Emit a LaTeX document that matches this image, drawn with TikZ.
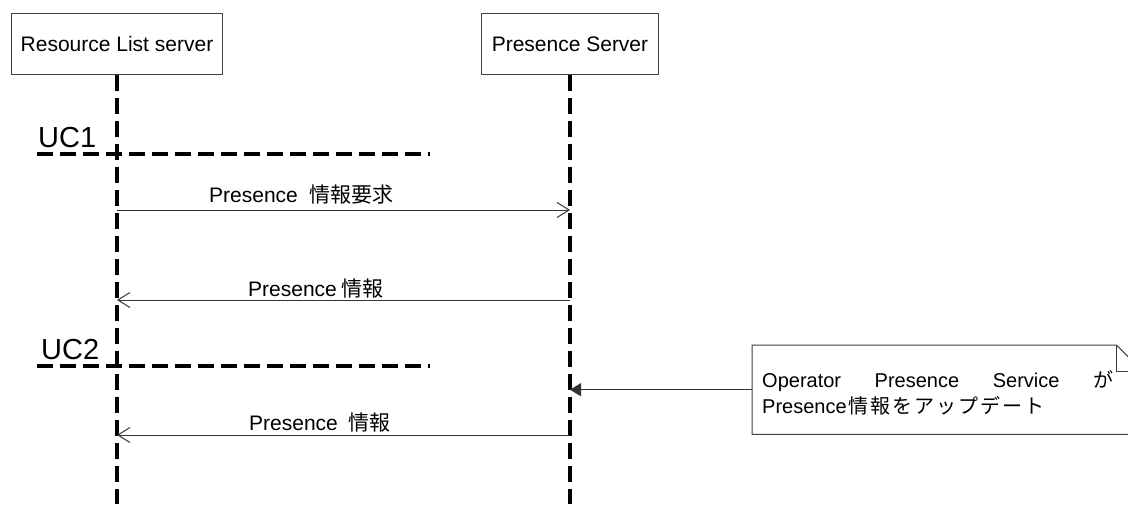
\documentclass[tikz,border=0pt]{standalone}
\usepackage{fontspec}
\setmainfont{Liberation Sans}
\newfontfamily\jp{Noto Sans CJK JP}
\newfontfamily\jpwide[LetterSpace=10]{Noto Sans CJK JP}
\usetikzlibrary{arrows.meta,positioning}

\begin{document}
\begin{tikzpicture}[x=1pt,y=-1pt,
    actor/.style={draw=black!75,line width=1pt,minimum width=#1,minimum height=61pt,
                  inner sep=0pt,font=\fontsize{21}{25}\selectfont},
    life/.style={line width=3.5pt,dash pattern=on 16pt off 7pt},
    msg/.style={draw=black!80,line width=1pt,-{Straight Barb[length=12pt,width=15pt]}},
    lbl/.style={anchor=base west,inner sep=0pt,font=\fontsize{21}{25}\selectfont},
    uc/.style={anchor=base west,inner sep=0pt,font=\fontsize{29}{34}\selectfont}]
    \pgfmathsetmacro{\lifeEnd}{504}
    \pgfmathsetmacro{\ucEnd}{430}
    \pgfmathsetmacro{\fold}{26}

    \useasboundingbox (0,0) rectangle (1128,504);

    % Draw the lifeline heads
    \node [actor=211pt,anchor=north west] (rls) at (11,13) {Resource List server};
    \node [actor=177pt,anchor=north west] (ps) at (481,13) {Presence Server};

    % Draw the lifelines
    \coordinate (rlsEnd) at (rls.south |- 0,\lifeEnd);
    \coordinate (psEnd) at (ps.south |- 0,\lifeEnd);
    \draw [life] (rls.south) -- (rlsEnd);
    \draw [life] (ps.south) -- (psEnd);

    % Draw the use case separators
    \node [uc] (uc1) at (38,147) {UC1};
    \coordinate (uc1a) at (37,154);
    \coordinate (uc1b) at (\ucEnd,154);
    \draw [life] (uc1a) -- (uc1b);
    \node [uc] (uc2) at (41,359) {UC2};
    \coordinate (uc2a) at (37,366);
    \coordinate (uc2b) at (\ucEnd,366);
    \draw [life] (uc2a) -- (uc2b);

    % Draw the messages
    \coordinate (m1a) at (rls.south |- 0,210);
    \coordinate (m1b) at (ps.south |- 0,210);
    \draw [msg] (m1a) -- (m1b);
    \node [lbl] (l1) at (209,202) {Presence\hspace{0.55em}{\jp 情報要求}};

    \coordinate (m2a) at (ps.south |- 0,300);
    \coordinate (m2b) at (rls.south |- 0,300);
    \draw [msg] (m2a) -- (m2b);
    \node [lbl] (l2) at (248,296) {Presence\hspace{0.2em}{\jp 情報}};

    \coordinate (m3a) at (ps.south |- 0,435);
    \coordinate (m3b) at (rls.south |- 0,435);
    \draw [msg] (m3a) -- (m3b);
    \node [lbl] (l3) at (249,430) {Presence\hspace{0.5em}{\jp 情報}};

    % Draw the note
    \node [minimum width=390pt,minimum height=89pt,inner sep=0pt,anchor=north west]
          (note) at (752,345) {};
    \draw [draw=black!75,line width=1pt,fill=white] (note.north west)
          -- ([xshift=-\fold pt]note.north east) -- ([yshift=-\fold pt]note.north east)
          -- (note.south east) -- (note.south west) -- cycle;
    \draw [draw=black!75,line width=1pt] ([xshift=-\fold pt]note.north east)
          -- ([xshift=-\fold pt,yshift=-\fold pt]note.north east)
          -- ([yshift=-\fold pt]note.north east);
    \node [lbl,font=\fontsize{20}{24}\selectfont] (n1) at (762,387)
          {\makebox[351pt][l]{Operator\hfill Presence\hfill Service\hfill{\jp が}}};
    \node [lbl,font=\fontsize{20}{24}\selectfont] (n2) at (762,413)
          {Presence\hspace{0.1em}{\jpwide 情報をアップデート}};

    % Draw the update arrow
    \draw [draw=black!80,line width=1pt,-{Triangle[length=11pt,width=13pt]}]
          (note.west) -- (note.west -| ps.south);

\end{tikzpicture}
\end{document}
